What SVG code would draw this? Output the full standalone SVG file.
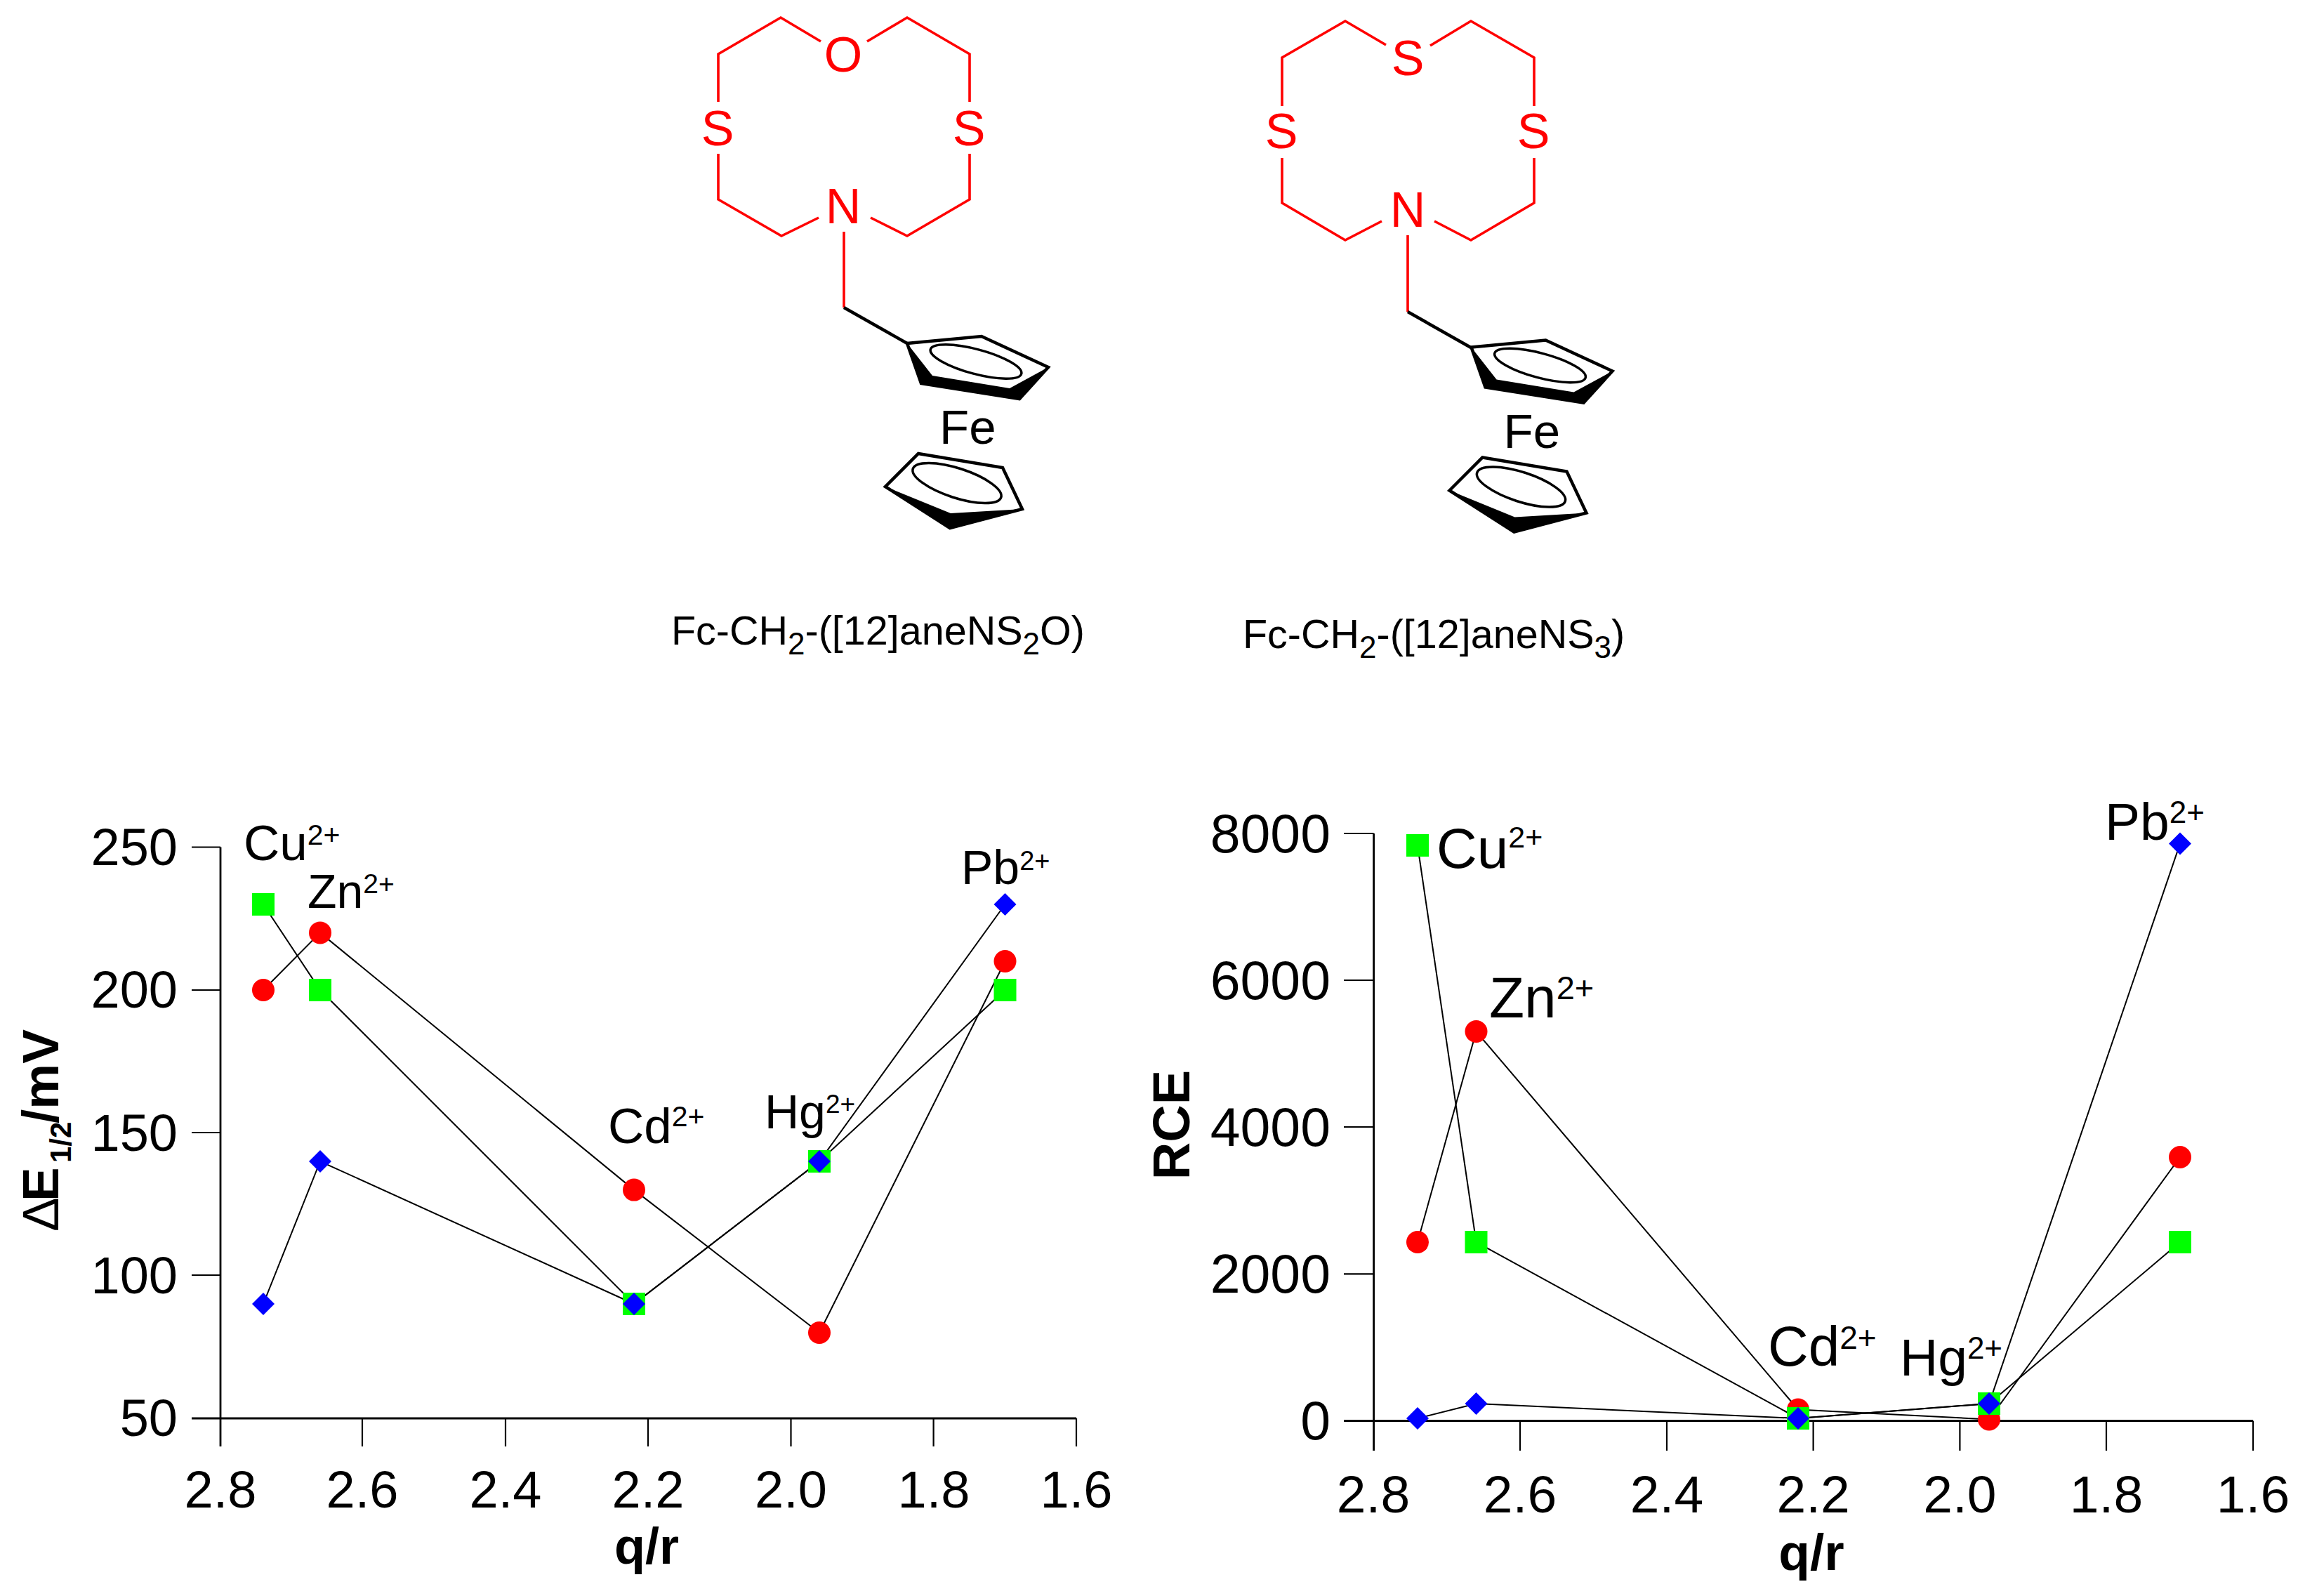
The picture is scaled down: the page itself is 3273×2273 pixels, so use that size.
<svg xmlns="http://www.w3.org/2000/svg" width="3273" height="2273" viewBox="0 0 3273 2273">
<style>
text{font-family:"Liberation Sans",Arial,sans-serif;fill:#000}
.ring{fill:none;stroke:#f00;stroke-width:3.6;stroke-linejoin:miter}
.atom{font-size:70px;fill:#f00;text-anchor:middle}
.cp{fill:none;stroke:#000;stroke-width:4.5;stroke-linejoin:miter}
.oval{fill:none;stroke:#000;stroke-width:3.5}
.axis{fill:none;stroke:#000;stroke-width:2.8}
.tick{fill:none;stroke:#000;stroke-width:2.2}
.data{fill:none;stroke:#000;stroke-width:2}
.cap{font-size:57.5px}
.ty1{font-size:74px;text-anchor:end}
.tx1{font-size:74px;text-anchor:middle}
.ty2{font-size:77px;text-anchor:end}
.tx2{font-size:75px;text-anchor:middle}
.b{font-weight:bold}
.ion1{font-size:71px}
.ion1n{font-size:68px}
.ion2{font-size:80px}
.ion2n{font-size:75px}
</style>
<defs>
<rect id="sq" x="-16" y="-16" width="32" height="32" fill="#0f0"/>
<circle id="ci" r="16" fill="#f00"/>
<polygon id="di" points="0,-16 16,0 0,16 -16,0" fill="#00f"/>
<g id="ferrocene">
<path class="cp" d="M1292,489L1398,479L1493,523L1452,568L1312,546Z"/>
<path fill="#000" d="M1292,489L1328,535L1312,546Z M1328,535L1438,553L1452,568L1312,546Z M1438,553L1493,523L1452,568Z"/>
<ellipse class="oval" cx="1390" cy="515" rx="67" ry="17.5" transform="rotate(15 1390 515)"/>
<text x="1338" y="632" font-size="69">Fe</text>
<path class="cp" d="M1308,646L1428,666L1456,725L1353,752L1261,693Z"/>
<path fill="#000" d="M1261,693L1354,731L1353,752Z M1354,731L1456,725L1353,752Z"/>
<ellipse class="oval" cx="1363" cy="688" rx="66" ry="21" transform="rotate(18 1363 688)"/>
</g>
</defs>
<rect width="3273" height="2273" fill="#fff"/>

<g id="molecule-ns2o">
<path class="ring" d="M1169,59L1112,25L1023,77V145M1023,219V284L1113,336L1166,310M1240,310L1292,336L1381,284V219M1381,145V77L1292,25L1235,59M1202,330V438"/>
<path class="cp" d="M1202,438L1292,489"/>
<text class="atom" x="1201" y="102">O</text>
<text class="atom" x="1022" y="207">S</text>
<text class="atom" x="1380" y="207">S</text>
<text class="atom" x="1201" y="318">N</text>
<use href="#ferrocene"/>
<text class="cap" x="956" y="918">Fc-CH<tspan font-size="44" dy="14">2</tspan><tspan dy="-14">-([12]aneNS</tspan><tspan font-size="44" dy="14">2</tspan><tspan dy="-14">O)</tspan></text>
</g>

<g id="molecule-ns3">
<path class="ring" d="M1974,64L1916,30L1826,82V151M1826,225V289L1916,342L1968,315M2043,315L2095,342L2185,289V225M2185,151V82L2095,30L2037,65M2005,335V444"/>
<path class="cp" d="M2005,444L2095,495"/>
<text class="atom" x="2005" y="107">S</text>
<text class="atom" x="1825" y="211">S</text>
<text class="atom" x="2184" y="211">S</text>
<text class="atom" x="2005" y="323">N</text>
<use href="#ferrocene" transform="translate(803.5 5.5)"/>
<text class="cap" x="1770" y="923">Fc-CH<tspan font-size="44" dy="14">2</tspan><tspan dy="-14">-([12]aneNS</tspan><tspan font-size="44" dy="14">3</tspan><tspan dy="-14">)</tspan></text>
</g>

<g id="chart-e12">
<path class="axis" d="M314,1206.5V2060M273,2020H1533"/>
<path class="tick" d="M273,1206.5H314M273,1410H314M273,1613H314M273,1816H314M516,2020V2060M720,2020V2060M923,2020V2060M1126.5,2020V2060M1329.6,2020V2060M1533,2020V2060"/>
<text class="ty1" x="253" y="1232">250</text>
<text class="ty1" x="253" y="1435">200</text>
<text class="ty1" x="253" y="1639">150</text>
<text class="ty1" x="253" y="1842">100</text>
<text class="ty1" x="253" y="2045">50</text>
<text class="tx1" x="314" y="2147">2.8</text>
<text class="tx1" x="516" y="2147">2.6</text>
<text class="tx1" x="720" y="2147">2.4</text>
<text class="tx1" x="923" y="2147">2.2</text>
<text class="tx1" x="1126.5" y="2147">2.0</text>
<text class="tx1" x="1330" y="2147">1.8</text>
<text class="tx1" x="1533" y="2147">1.6</text>
<text class="b" x="921" y="2227" font-size="72" text-anchor="middle">q/r</text>
<text transform="translate(83 1754) rotate(-90)" font-size="73">Δ<tspan class="b" x="43">E</tspan><tspan class="b" x="98" dy="18" font-size="42">1/2</tspan><tspan class="b" x="154" dy="-18">/mV</tspan></text>
<g id="connectors-e12">
<polyline class="data" points="375,1410 456,1328.4 903,1694.6 1167,1898 1431.5,1369"/>
<polyline class="data" points="375,1288 456,1410 903,1857 1167,1654 1431.5,1410"/>
<polyline class="data" points="375,1857 456,1654 903,1857 1167,1654 1431.5,1288"/>
</g>
<g id="points-e12">
<use href="#ci" x="375" y="1410"/><use href="#ci" x="456" y="1328.4"/><use href="#ci" x="903" y="1694.6"/><use href="#ci" x="1167" y="1898"/><use href="#ci" x="1431.5" y="1369"/>
<use href="#sq" x="375" y="1288"/><use href="#sq" x="456" y="1410"/><use href="#sq" x="903" y="1857"/><use href="#sq" x="1167" y="1654"/><use href="#sq" x="1431.5" y="1410"/>
<use href="#di" x="375" y="1857"/><use href="#di" x="456" y="1654"/><use href="#di" x="903" y="1857"/><use href="#di" x="1167" y="1654"/><use href="#di" x="1431.5" y="1288"/>
</g>
<text class="ion1" x="347" y="1225">Cu<tspan font-size="41" dy="-22">2+</tspan></text>
<text class="ion1n" x="438" y="1293">Zn<tspan font-size="39" dy="-21">2+</tspan></text>
<text class="ion1" x="866" y="1628">Cd<tspan font-size="41" dy="-24">2+</tspan></text>
<text class="ion1n" x="1089" y="1607">Hg<tspan font-size="37" dy="-22">2+</tspan></text>
<text class="ion1n" x="1369" y="1259">Pb<tspan font-size="38" dy="-20">2+</tspan></text>
</g>

<g id="chart-rce">
<path class="axis" d="M1956.6,1187V2066M1914,2023.5H3209"/>
<path class="tick" d="M1914,1187H1956.6M1914,1396H1956.6M1914,1605H1956.6M1914,1814.4H1956.6M2165,2023.5V2066M2374,2023.5V2066M2582.6,2023.5V2066M2791.4,2023.5V2066M3000,2023.5V2066M3209,2023.5V2066"/>
<text class="ty2" x="1895" y="1214">8000</text>
<text class="ty2" x="1895" y="1423">6000</text>
<text class="ty2" x="1895" y="1632">4000</text>
<text class="ty2" x="1895" y="1841">2000</text>
<text class="ty2" x="1895" y="2050">0</text>
<text class="tx2" x="1956" y="2154">2.8</text>
<text class="tx2" x="2165" y="2154">2.6</text>
<text class="tx2" x="2374" y="2154">2.4</text>
<text class="tx2" x="2582.6" y="2154">2.2</text>
<text class="tx2" x="2791.4" y="2154">2.0</text>
<text class="tx2" x="3000" y="2154">1.8</text>
<text class="tx2" x="3209" y="2154">1.6</text>
<text class="b" x="2580" y="2236" font-size="73" text-anchor="middle">q/r</text>
<text class="b" transform="translate(1694.4 1602) rotate(-90)" font-size="74" text-anchor="middle">RCE</text>
<g id="connectors-rce">
<polyline class="data" points="2019,1769 2102.5,1469 2561,2007.5 2833,2021.5 3105,1648"/>
<polyline class="data" points="2019,1204 2102.5,1769 2561,2020 2833,1999 3105,1769"/>
<polyline class="data" points="2019,2020 2102.5,1999 2561,2020 2833,1999 3105,1201.5"/>
</g>
<g id="points-rce">
<use href="#ci" x="2019" y="1769"/><use href="#ci" x="2102.5" y="1469"/><use href="#ci" x="2561" y="2007.5"/><use href="#ci" x="2833" y="2021.5"/><use href="#ci" x="3105" y="1648"/>
<use href="#sq" x="2019" y="1204"/><use href="#sq" x="2102.5" y="1769"/><use href="#sq" x="2561" y="2020"/><use href="#sq" x="2833" y="1999"/><use href="#sq" x="3105" y="1769"/>
<use href="#di" x="2019" y="2020"/><use href="#di" x="2102.5" y="1999"/><use href="#di" x="2561" y="2020"/><use href="#di" x="2833" y="1999"/><use href="#di" x="3105" y="1201.5"/>
</g>
<text class="ion2" x="2046" y="1236">Cu<tspan font-size="43" dy="-29">2+</tspan></text>
<text class="ion2" x="2121" y="1449" style="font-size:82px">Zn<tspan font-size="47" dy="-26">2+</tspan></text>
<text class="ion2" x="2518" y="1945">Cd<tspan font-size="46" dy="-24">2+</tspan></text>
<text class="ion2n" x="2706" y="1959">Hg<tspan font-size="44" dy="-24">2+</tspan></text>
<text class="ion2n" x="2998" y="1196">Pb<tspan font-size="44" dy="-24">2+</tspan></text>
</g>
</svg>
